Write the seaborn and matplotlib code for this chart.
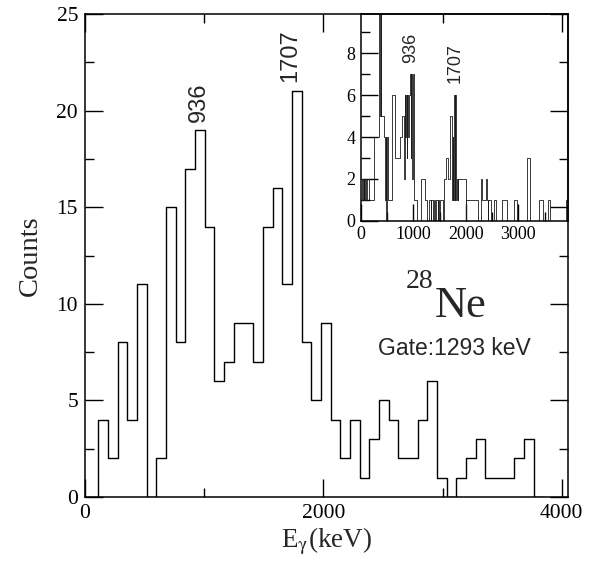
import numpy as np
import pandas as pd
import matplotlib
matplotlib.use("Agg")
import matplotlib.pyplot as plt
from matplotlib.ticker import MultipleLocator
import seaborn as sns

# --- gated spectrum (main panel), uniform 81.2 keV bins -------------------
gated_first_edge = 30.8
gated_bin_width = 81.2
gated_counts = [0,
                4, 2, 8, 4, 11, 0, 2, 15, 8, 17,
                19, 14, 6, 7, 9, 9, 7, 14, 16, 11,
                21, 8, 5, 9, 4, 2, 4, 1, 3, 5,
                4, 2, 2, 4, 6, 1, 0, 1, 2, 3,
                1, 1, 1, 2, 3,
                0]

# --- fine-binned spectrum (inset): bin edges in keV and counts -------------
inset_edges = [0, 18, 36, 54, 72, 90, 108, 126, 150,
               252, 340, 354, 368, 380, 392,
               445, 460, 475, 490, 505, 517,
               590, 650, 745, 790,
               820, 834, 848, 862, 876, 890, 904,
               918, 936, 950, 964, 978, 992, 1006,
               1018, 1080, 1150, 1215, 1260, 1300, 1330, 1345, 1380, 1395,
               1420, 1440, 1470, 1480, 1495, 1505, 1565,
               1580, 1625, 1670, 1700, 1735, 1750, 1762, 1775, 1790,
               1802, 1815, 1830, 1845, 1860,
               1995, 2008, 2230, 2280, 2310, 2390, 2402, 2414, 2426,
               2480, 2530, 2580, 2690, 2780, 2920, 2980, 3170, 3220,
               3400, 3460, 3560, 3610, 3910, 3950]
inset_counts = [1, 2, 1, 2, 1, 2, 1, 2,
                1, 4, 5, 12, 5, 12, 5,
                4, 1, 4, 0, 4, 1,
                6, 3, 4, 5,
                2, 6, 4, 6, 3, 6, 4,
                6, 7, 3, 7, 2, 7, 2,
                1, 0, 2, 1, 0, 1, 0, 1, 0, 1,
                0, 1, 0, 1, 0, 1, 0,
                2, 3, 2, 5, 1, 4, 1, 6, 1,
                6, 1, 2, 1, 2,
                0, 1, 0, 2, 1, 2, 1, 0, 1,
                0, 1, 0, 1, 0, 1, 0, 3, 0,
                1, 0, 1, 0, 1]

# peak annotations (keV)
peak_labels = ["936", "1707"]
main_label_x = [957, 1720]
main_label_y = [19.4, 21.5]
inset_label_x = [949, 1789]
inset_label_y = [7.52, 6.57]


def step_hist(ax, edges, counts, lw, color):
    edges = [float(e) for e in edges]
    centers = [0.5 * (a + b) for a, b in zip(edges[:-1], edges[1:])]
    df = pd.DataFrame({"energy": centers, "counts": counts})
    sns.histplot(data=df, x="energy", weights="counts", bins=edges,
                 element="step", fill=False, color=color,
                 linewidth=lw, ax=ax)


sns.set_style("ticks")
plt.rcParams["font.family"] = ["Liberation Serif", "DejaVu Serif"]
plt.rcParams["mathtext.fontset"] = "stix"
plt.rcParams["axes.linewidth"] = 1.1

fig = plt.figure(figsize=(5.96, 5.73), dpi=100)
ax = fig.add_axes([0.1426, 0.1326, 0.8109, 0.8430])

gated_edges = list(gated_first_edge
                   + gated_bin_width * np.arange(len(gated_counts) + 1))
step_hist(ax, gated_edges, gated_counts, 1.0, "black")

ax.set_xlim(0, 4055)
ax.set_ylim(0, 25)
ax.xaxis.set_major_locator(MultipleLocator(2000))
ax.xaxis.set_minor_locator(MultipleLocator(1000))
ax.yaxis.set_major_locator(MultipleLocator(5))
ax.yaxis.set_minor_locator(MultipleLocator(2.5))
ax.tick_params(which="both", direction="in", top=True, right=True,
               width=1.0, colors="black", labelsize=15.5, pad=5)
ax.tick_params(which="major", length=13)
ax.tick_params(which="minor", length=6.5)
for s in ax.spines.values():
    s.set_color("black")
ax.set_xlabel(r"E$_{\mathrm{\gamma}}$(keV)", fontsize=19.5, labelpad=2)
ax.set_ylabel("Counts", fontsize=20.5, labelpad=10)

for lab, x, y in zip(peak_labels, main_label_x, main_label_y):
    ax.text(x, y, lab, rotation=90, ha="center", va="bottom",
            fontsize=17, family="Liberation Sans")

ax.text(2924, 10.82, "28", ha="right", va="baseline", fontsize=20)
ax.text(2937, 9.30, "Ne", ha="left", va="baseline", fontsize=32)
ax.text(3096, 7.68, "Gate:1293 keV", ha="center", va="center",
        fontsize=16.5, family="Liberation Sans")

# inset
axi = fig.add_axes([0.6052, 0.6148, 0.3483, 0.3608])
axi.patch.set_alpha(0)
step_hist(axi, inset_edges, inset_counts, 0.6, "#1a1a1a")
axi.set_xlim(0, 3950)
axi.set_ylim(0, 9.88)
axi.xaxis.set_major_locator(MultipleLocator(1000))
axi.xaxis.set_minor_locator(MultipleLocator(500))
axi.yaxis.set_major_locator(MultipleLocator(2))
axi.yaxis.set_minor_locator(MultipleLocator(1))
axi.tick_params(which="both", direction="in", top=False, right=False,
                width=1.0, colors="black", labelsize=13, pad=4)
axi.tick_params(which="major", length=12)
axi.tick_params(which="minor", length=6.5)
axi.set_xlabel("")
axi.set_ylabel("")
for s in axi.spines.values():
    s.set_color("black")
for lab, x, y in zip(peak_labels, inset_label_x, inset_label_y):
    axi.text(x, y, lab, rotation=90, ha="center", va="bottom",
             fontsize=13, family="Liberation Sans")

fig.savefig("out.png", dpi=100)
